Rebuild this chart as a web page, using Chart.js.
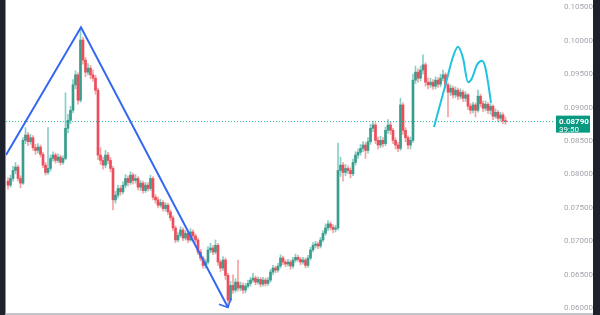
<!DOCTYPE html>
<html>
<head>
  <title>Price chart</title>
  <script src="https://cdn.jsdelivr.net/npm/chart.js"></script>
  <style>
    body {
      margin: 0;
      background: #1e222d;
      width: 600px;
      height: 315px;
      overflow: hidden;
    }
    #wrap {
      position: absolute;
      left: 5px;
      top: 0;
      width: 587px;
      height: 313px;
      background: #ffffff;
      border-left: 1px solid #8d919b;
      border-bottom: 2px solid #c3c5cb;
    }
  </style>
</head>
<body>
  <div id="wrap"><canvas id="chart"></canvas></div>

  <script>
    // candle closes, read left to right (one candle per 2.5px)
    var closes = [
      .0784,.0794,.0806,.0811,.0794,.0787,.0851,.0859,.0849,.0855,
      .0840,.0836,.0841,.0830,.0814,.0803,.0809,.0824,.0829,.0821,
      .0826,.0818,.0824,.0869,.0881,.0896,.0934,.0949,.0911,.1001,
      .0971,.0953,.0959,.0949,.0944,.0926,.0829,.0821,.0814,.0829,
      .0821,.0809,.0762,.0769,.0779,.0774,.0784,.0794,.0788,.0799,
      .0791,.0794,.0781,.0787,.0776,.0784,.0779,.0794,.0766,.0762,
      .0754,.0758,.0749,.0754,.0744,.0735,.0720,.0702,.0709,.0717,
      .0705,.0712,.0702,.0714,.0708,.0702,.0684,.0675,.0664,.0669,
      .0687,.0690,.0684,.0694,.0669,.0660,.0672,.0649,.0612,.0634,
      .0627,.0639,.0630,.0634,.0627,.0633,.0637,.0642,.0645,.0639,
      .0643,.0636,.0642,.0637,.0642,.0654,.0660,.0657,.0663,.0675,
      .0669,.0666,.0669,.0663,.0672,.0676,.0673,.0669,.0672,.0664,
      .0675,.0687,.0694,.0696,.0693,.0702,.0712,.0720,.0726,.0721,
      .0718,.0720,.0806,.0814,.0803,.0809,.0806,.0801,.0818,.0829,
      .0833,.0839,.0844,.0836,.0849,.0869,.0874,.0851,.0844,.0851,
      .0846,.0866,.0874,.0866,.0851,.0844,.0839,.0904,.0866,.0855,
      .0844,.0851,.0941,.0953,.0944,.0956,.0964,.0938,.0934,.0938,
      .0932,.0941,.0935,.0944,.0949,.0934,.0923,.0929,.0919,.0926,
      .0917,.0923,.0914,.0919,.0902,.0896,.0904,.0896,.0917,.0906,
      .0899,.0905,.0896,.0902,.0887,.0893,.0884,.0889,.0880,.0879
    ];
    var firstOpen = .0790;

    var highs = [
      .0795,.0799,.0812,.0818,.0814,.0798,.0855,.0870,.0863,.0860,
      .0858,.0845,.0846,.0844,.0833,.0818,.0870,.0829,.0834,.0832,
      .0831,.0829,.0828,.0922,.0890,.0902,.0942,.0955,.0952,.1018,
      .1005,.0975,.0966,.0963,.0956,.0948,.0929,.0840,.0826,.0836,
      .0833,.0825,.0812,.0775,.0784,.0783,.0789,.0800,.0798,.0804,
      .0802,.0800,.0797,.0791,.0790,.0788,.0788,.0799,.0797,.0770,
      .0766,.0763,.0761,.0758,.0757,.0747,.0738,.0723,.0713,.0722,
      .0720,.0716,.0715,.0719,.0717,.0711,.0705,.0688,.0678,.0673,
      .0692,.0697,.0694,.0702,.0697,.0672,.0677,.0675,.0652,.0640,
      .0650,.0644,.0672,.0639,.0638,.0637,.0642,.0646,.0652,.0648,
      .0647,.0646,.0646,.0645,.0646,.0658,.0664,.0663,.0667,.0680,
      .0678,.0672,.0673,.0672,.0676,.0681,.0679,.0676,.0676,.0675,
      .0679,.0691,.0698,.0700,.0699,.0706,.0716,.0726,.0731,.0729,
      .0725,.0724,.0847,.0826,.0818,.0815,.0813,.0810,.0823,.0834,
      .0838,.0845,.0849,.0848,.0855,.0875,.0880,.0877,.0856,.0857,
      .0855,.0871,.0882,.0878,.0869,.0855,.0848,.0914,.0907,.0870,
      .0858,.0856,.0950,.0962,.0958,.0962,.0979,.0967,.0944,.0944,
      .0942,.0946,.0945,.0950,.0956,.0952,.0937,.0934,.0932,.0931,
      .0929,.0928,.0926,.0924,.0921,.0906,.0908,.0907,.0926,.0920,
      .0910,.0910,.0908,.0906,.0904,.0898,.0896,.0893,.0892,.0886
    ];

    var lows = [
      .0778,.0781,.0790,.0801,.0790,.0780,.0785,.0846,.0843,.0845,
      .0836,.0830,.0832,.0826,.0810,.0799,.0800,.0805,.0820,.0817,
      .0818,.0814,.0815,.0822,.0862,.0876,.0892,.0928,.0905,.0908,
      .0965,.0946,.0949,.0943,.0939,.0920,.0822,.0815,.0808,.0810,
      .0816,.0804,.0747,.0757,.0765,.0769,.0771,.0780,.0783,.0785,
      .0786,.0787,.0777,.0776,.0772,.0773,.0775,.0776,.0762,.0757,
      .0750,.0751,.0745,.0745,.0740,.0731,.0716,.0698,.0699,.0706,
      .0701,.0702,.0698,.0700,.0704,.0698,.0680,.0671,.0660,.0660,
      .0666,.0683,.0680,.0681,.0664,.0655,.0656,.0643,.0601,.0609,
      .0622,.0624,.0626,.0626,.0622,.0623,.0630,.0633,.0639,.0635,
      .0636,.0632,.0633,.0633,.0634,.0639,.0650,.0653,.0654,.0660,
      .0665,.0662,.0663,.0658,.0660,.0669,.0670,.0665,.0666,.0660,
      .0661,.0672,.0684,.0690,.0689,.0690,.0699,.0709,.0716,.0717,
      .0713,.0714,.0717,.0797,.0790,.0798,.0801,.0795,.0798,.0814,
      .0824,.0829,.0834,.0824,.0832,.0845,.0864,.0846,.0838,.0840,
      .0841,.0843,.0861,.0860,.0846,.0838,.0834,.0836,.0860,.0849,
      .0838,.0838,.0848,.0936,.0938,.0940,.0950,.0932,.0928,.0930,
      .0927,.0928,.0930,.0931,.0940,.0929,.0886,.0918,.0914,.0915,
      .0912,.0913,.0909,.0909,.0897,.0891,.0892,.0886,.0893,.0901,
      .0894,.0895,.0891,.0890,.0882,.0884,.0879,.0880,.0876,.0875
    ];

    // y axis labels
    var yTicks = [0.060, 0.065, 0.070, 0.075, 0.080, 0.085, 0.090, 0.095, 0.100, 0.105];
    var lastPrice = 0.0879;
    var countdown = "39:50";

    // drawings (x in candle index units)
    var trendX = [-0.8, 29.2, 88];
    var trendY = [0.0829, 0.1020, 0.0601];
    var arrowX = [84.4, 88, 89.2];
    var arrowY = [0.0606, 0.0601, 0.0615];
    var waveX = [170.4, 175.2, 178, 180, 182, 184, 185.6, 187.6, 189.6, 190.8, 192, 193.2];
    var waveY = [0.0871, 0.0937, 0.0976, 0.0991, 0.0974, 0.0938, 0.0944, 0.0964, 0.0970, 0.0962, 0.0938, 0.0907];

    var up = "#3a9d8c", down = "#ec4d5c";
    var upWick = "rgba(38,166,154,0.55)", downWick = "rgba(239,83,80,0.55)";

    var bodies = [], wicks = [], colors = [], wickColors = [];
    var open = firstOpen;
    for (var i = 0; i < closes.length; i++) {
      bodies.push({ x: i, y: [open, closes[i]] });
      wicks.push({ x: i, y: [lows[i], highs[i]] });
      colors.push(closes[i] >= open ? up : down);
      wickColors.push(closes[i] >= open ? upWick : downWick);
      open = closes[i];
    }

    function pts(xs, ys) {
      var out = [];
      for (var i = 0; i < xs.length; i++) out.push({ x: xs[i], y: ys[i] });
      return out;
    }

    // green box with the last price on the axis
    var priceTag = {
      id: "priceTag",
      afterDraw: function (chart) {
        var c = chart.ctx;
        var y = chart.scales.y.getPixelForValue(lastPrice);
        var x0 = chart.chartArea.right + 1;
        c.save();
        c.fillStyle = "#089981";
        c.fillRect(x0, y - 6, 34, 17);
        c.fillStyle = "#ffffff";
        c.textBaseline = "middle";
        c.font = "bold 8px Roboto";
        c.fillText(lastPrice.toFixed(5), x0 + 3, y);
        c.font = "8px Roboto";
        c.fillText(countdown, x0 + 3, y + 8);
        c.restore();
      }
    };

    var ctx = document.getElementById("chart").getContext("2d");
    var chart = new Chart(ctx, {
      type: "bar",
      data: {
        datasets: [
          {
            type: "line", data: pts(trendX, trendY), borderColor: "#3567f2",
            borderWidth: 2, pointRadius: 0, order: 0
          },
          {
            type: "line", data: pts(arrowX, arrowY), borderColor: "#3567f2",
            borderWidth: 1.5, pointRadius: 0, order: 0
          },
          {
            type: "line", data: pts(waveX, waveY), borderColor: "#1fc3de",
            borderWidth: 2, pointRadius: 0, cubicInterpolationMode: "monotone", order: 0
          },
          {
            type: "line", data: [{ x: -0.8, y: lastPrice }, { x: 218.8, y: lastPrice }],
            borderColor: "#22b39b", borderWidth: 1, borderDash: [1, 2], pointRadius: 0, order: 1
          },
          {
            data: wicks, backgroundColor: wickColors, barThickness: 1, grouped: false, order: 3
          },
          {
            data: bodies, backgroundColor: colors, barThickness: 2, grouped: false,
            minBarLength: 1, order: 2
          }
        ]
      },
      options: {
        responsive: true,
        maintainAspectRatio: false,
        animation: false,
        layout: { padding: 0 },
        plugins: { legend: { display: false }, tooltip: { enabled: false } },
        scales: {
          x: {
            type: "linear", display: false, offset: false,
            min: -0.8, max: 218.8
          },
          y: {
            position: "right",
            min: 0.05928, max: 0.10609,
            grid: { display: false },
            border: { display: false },
            afterFit: function (s) {
              s.width = 38;
              s.paddingTop = 0;
              s.paddingBottom = 0;
            },
            afterBuildTicks: function (s) {
              s.ticks = yTicks.map(function (v) { return { value: v }; });
            },
            ticks: {
              crossAlign: "far",
              padding: 4,
              color: "#a3a6af",
              font: { family: "Roboto", size: 8 },
              callback: function (v) { return v.toFixed(5); }
            }
          }
        }
      },
      plugins: [priceTag]
    });
  </script>
</body>
</html>
